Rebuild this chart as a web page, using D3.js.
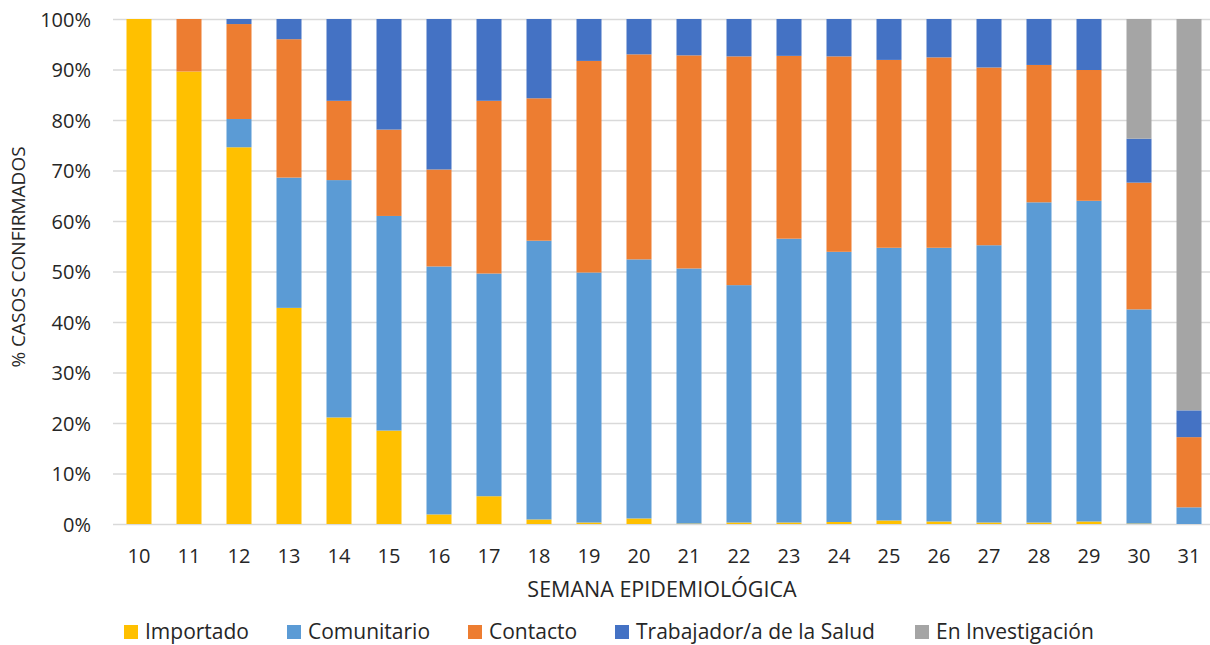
<!DOCTYPE html>
<html><head><meta charset="utf-8">
<script src="https://cdn.jsdelivr.net/npm/d3@7/dist/d3.min.js"></script>
<style>body{margin:0;background:#fff;} svg{display:block;font-family:"Open Sans", sans-serif;}</style>
</head><body>
<svg id="c" width="1210" height="645"></svg>
<script>
const weeks = ["10","11","12","13","14","15","16","17","18","19","20","21","22","23","24","25","26","27","28","29","30","31"];
const seriesNames = ["Importado","Comunitario","Contacto","Trabajador/a de la Salud","En Investigación"];
const colors = ["#FFC000","#5B9BD5","#ED7D31","#4472C4","#A5A5A5"];
const importado   = [100,89.6,74.6,42.8,21.1,18.5,1.9,5.5,0.9,0.3,1.1,0.1,0.3,0.3,0.4,0.7,0.5,0.3,0.3,0.5,0.1,0];
const comunitario = [0,0,5.6,25.8,47.0,42.5,49.1,44.1,55.2,49.5,51.3,50.5,47.0,56.2,53.5,54.0,54.2,54.9,63.4,63.5,42.4,3.3];
const contacto    = [0,10.4,18.8,27.4,15.7,17.1,19.2,34.2,28.2,41.9,40.6,42.2,45.3,36.2,38.7,37.2,37.7,35.2,27.2,25.9,25.1,13.9];
const trabajador  = [0,0,1.0,4.0,16.2,21.9,29.8,16.2,15.7,8.3,7.0,7.2,7.4,7.3,7.4,8.1,7.6,9.6,9.1,10.1,8.7,5.3];
const investigacion = [0,0,0,0,0,0,0,0,0,0,0,0,0,0,0,0,0,0,0,0,23.7,77.5];
const yTicks = [0,10,20,30,40,50,60,70,80,90,100];

const seriesData = [importado, comunitario, contacto, trabajador, investigacion];
const rows = weeks.map((w,i)=>{const r={week:w}; seriesNames.forEach((s,j)=>r[s]=seriesData[j][i]); return r;});
const stacked = d3.stack().keys(seriesNames)(rows);

const textColor = "#262626";
const svg = d3.select("#c");
const x = d3.scaleBand().domain(weeks).range([114,1214]).paddingInner(0.5).paddingOuter(0.25);
const y = d3.scaleLinear().domain([0,100]).range([524,19]);

// gridlines
svg.append("g").selectAll("line").data(yTicks).join("line")
  .attr("x1",113).attr("x2",1214).attr("y1",d=>y(d)+0.5).attr("y2",d=>y(d)+0.5)
  .attr("stroke","#D9D9D9").attr("stroke-width",1.3);

// bars
svg.append("g").selectAll("g").data(stacked).join("g")
  .attr("fill",(d,i)=>colors[i])
  .selectAll("rect").data(d=>d).join("rect")
  .attr("x",d=>x(d.data.week)).attr("width",x.bandwidth())
  .attr("y",d=>y(d[1])).attr("height",d=>Math.max(0,y(d[0])-y(d[1])));

// y axis labels
const yAxis = d3.axisLeft(y).tickValues(yTicks).tickFormat(d=>d+"%").tickSize(0).tickPadding(0);
const ya = svg.append("g").attr("transform","translate(91,0)").call(yAxis);
ya.select(".domain").remove();
ya.selectAll("text").attr("font-size",20).attr("fill",textColor).attr("font-family","'Open Sans', sans-serif").attr("dy","0.36em");

// x axis labels
const xAxis = d3.axisBottom(x).tickSize(0).tickPadding(0);
const xa = svg.append("g").attr("transform","translate(0,563)").call(xAxis);
xa.select(".domain").remove();
xa.selectAll("text").attr("font-size",20).attr("fill",textColor).attr("font-family","'Open Sans', sans-serif").attr("dy","0");

// axis titles
svg.append("text").attr("x",662).attr("y",597).attr("text-anchor","middle")
  .attr("font-size",21.5).attr("fill",textColor).text("SEMANA EPIDEMIOLÓGICA");
svg.append("text").attr("transform","translate(25,257) rotate(-90)").attr("text-anchor","middle")
  .attr("font-size",19).attr("fill",textColor).text("% CASOS CONFIRMADOS");

// legend
const legendX = [124,287,468,615,915];
const lg = svg.append("g").selectAll("g").data(seriesNames).join("g")
  .attr("transform",(d,i)=>`translate(${legendX[i]},625)`);
lg.append("rect").attr("width",14).attr("height",14).attr("fill",(d,i)=>colors[i]);
lg.append("text").attr("x",21).attr("y",14).attr("font-size",21).attr("fill",textColor).text(d=>d);
</script>
</body></html>
